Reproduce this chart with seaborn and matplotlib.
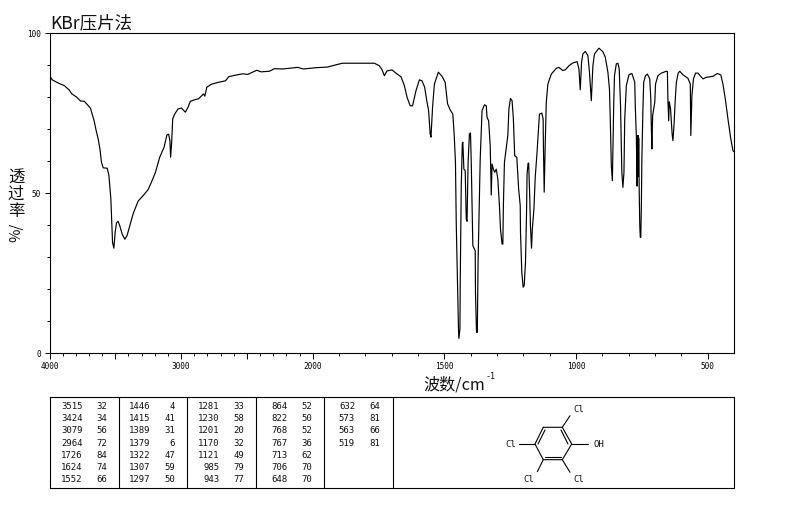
import numpy as np
import pandas as pd
import matplotlib
matplotlib.use('Agg')
import matplotlib.pyplot as plt
import seaborn as sns

# spectrum
wavenumber = [3996, 3979, 3933, 3888, 3852, 3832, 3794, 3764, 3736, 3711, 3688, 3676, 3661, 3648, 3630,
              3617, 3605, 3592, 3562, 3549, 3542, 3534, 3527, 3521, 3511, 3501, 3491, 3479, 3466, 3448,
              3428, 3411, 3390, 3365, 3327, 3289, 3251, 3226, 3195, 3163, 3130, 3108, 3095, 3085, 3080,
              3072, 3064, 3049, 3024, 2998, 2968, 2948, 2930, 2903, 2867, 2830, 2820, 2805, 2771, 2721,
              2663, 2638, 2595, 2532, 2494, 2426, 2392, 2329, 2292, 2229, 2115, 2072, 1988, 1944, 1912,
              1887, 1766, 1747, 1737, 1728, 1718, 1699, 1684, 1671, 1665, 1652, 1642, 1630, 1621, 1608,
              1595, 1585, 1575, 1567, 1560, 1554, 1551, 1545, 1538, 1523, 1509, 1497, 1488, 1478, 1468,
              1463, 1458, 1455, 1450, 1446.5, 1445, 1441, 1440, 1436, 1432, 1430, 1426, 1421, 1417, 1414,
              1410, 1405, 1401, 1398, 1392, 1383, 1382, 1378, 1375, 1372, 1367, 1364, 1357, 1348, 1341,
              1338, 1332, 1326, 1322, 1319, 1314, 1309, 1303, 1297, 1291, 1287, 1281, 1278, 1276, 1272,
              1265, 1259, 1255, 1249, 1243, 1238, 1233, 1225, 1218, 1212, 1211, 1206, 1201, 1197, 1192,
              1188, 1186, 1182, 1180, 1176, 1173, 1169, 1166, 1160, 1155, 1149, 1143, 1139, 1130, 1125,
              1124, 1121, 1117, 1113, 1107, 1094, 1075, 1065, 1050, 1040, 1027, 1012, 996, 989, 984,
              979, 974, 965, 955, 949, 942, 936, 930, 913, 898, 889, 879, 873, 870, 866,
              862, 857, 854, 847, 841, 836, 831, 826, 822, 818, 815, 809, 799, 788, 777,
              775, 771, 768, 767, 766, 765, 764, 763, 762, 760, 758, 756, 754, 752, 750,
              746, 743, 736, 729, 720, 716, 714, 712, 709, 701, 698, 689, 676, 657, 653,
              651, 648, 646, 641, 635, 632, 628, 623, 619, 612, 606, 594, 575, 566, 564,
              560, 554, 546, 537, 518, 505, 480, 463, 450, 442, 433, 423, 412, 404, 400]
transmittance = [86.3, 85.2, 84.2, 83.4, 82.1, 80.9, 79.8, 78.6, 78.5, 77.4, 76.3, 74.5, 72.4, 69.8, 66.7,
                 63.6, 59.4, 57.7, 57.6, 55.5, 52.1, 48, 40.7, 34.4, 32.6, 37.6, 40.5, 41, 39.6, 37,
                 35.4, 36.5, 39.6, 43.3, 47.3, 49, 50.9, 53.2, 56.3, 61, 64.1, 68, 68.2, 66.2, 61,
                 65.7, 73, 74.5, 76.1, 76.4, 75.1, 76.6, 78.5, 78.9, 79.3, 80.8, 80.1, 82.9, 83.8, 84.4,
                 84.9, 86.2, 86.6, 87.1, 86.9, 88.2, 87.7, 87.9, 88.7, 88.6, 89.1, 88.6, 89, 89.2, 89.9,
                 90.4, 90.4, 89.6, 88.4, 86.5, 88, 88.3, 87.3, 86.5, 86.2, 83.4, 79.8, 77.1, 77.1, 81.8,
                 85.2, 84.9, 82.9, 78.7, 75.6, 68.3, 67.3, 76.6, 83.9, 87.6, 86.3, 84.4, 77.7, 75.8, 74.5,
                 68.3, 59.4, 40.2, 20.9, 7.3, 4.4, 7.3, 20.9, 52.1, 65.2, 65.7, 57.3, 56.8, 41.7, 41,
                 59.4, 68.3, 68.6, 59.4, 33.4, 31.8, 18.8, 6.3, 6.3, 28.7, 48, 60.5, 75.6, 77.4, 77.1,
                 73.5, 72.4, 64.6, 49.2, 58.9, 57.3, 56.3, 57.3, 54.2, 45.9, 38.6, 33.9, 33.9, 45.9, 59.4,
                 64.1, 67.9, 76.1, 79.4, 78.7, 73, 61.5, 61, 51.1, 45.9, 37.6, 25.1, 20.4, 20.9, 28.2,
                 43.8, 55.8, 59.2, 59.2, 49, 39.1, 32.6, 38.6, 44.8, 54.8, 61.5, 69.3, 74.5, 74.8, 73,
                 65.2, 50.1, 65.2, 78.2, 83.9, 87, 88.8, 89.1, 88.1, 88.4, 89.6, 90.5, 90.9, 88.6, 82.1,
                 90.7, 93.3, 94.1, 92.8, 87.6, 78.7, 89.6, 93.3, 95.1, 94, 92.3, 87.6, 82.3, 73, 58.4,
                 53.7, 77.1, 86.5, 90.2, 90.4, 88.6, 77.1, 56.3, 51.6, 56.3, 73, 83.4, 86.8, 87.2, 84.5,
                 77.1, 67.8, 52, 58, 67.8, 55, 67.8, 55, 67, 50, 40, 36, 36, 45, 60,
                 76, 84.5, 86.5, 87, 85.5, 79.2, 70.4, 63.6, 74, 78.2, 83.9, 86.5, 87.3, 87.9, 87.8,
                 78.7, 72.4, 78.4, 76.1, 68.3, 66.2, 70.9, 79.2, 84.4, 87.3, 87.9, 86.8, 85.7, 83.9, 67.8,
                 80.2, 85.5, 87.3, 87.3, 85.5, 86, 86.3, 87.2, 86.7, 83.9, 79.2, 73, 66.7, 63.1, 62.7]

# peak table, one pair of lists per column
peak_wn = [[3515, 3424, 3079, 2964, 1726, 1624, 1552],
           [1446, 1415, 1389, 1379, 1322, 1307, 1297],
           [1281, 1230, 1201, 1170, 1121, 985, 943],
           [864, 822, 768, 767, 713, 706, 648],
           [632, 573, 563, 519]]
peak_t = [[32, 34, 56, 72, 84, 74, 66],
          [4, 41, 31, 6, 47, 59, 50],
          [33, 58, 20, 32, 49, 79, 77],
          [52, 50, 52, 36, 62, 70, 70],
          [64, 81, 66, 81]]

major_x = [4000, 3500, 3000, 2500, 2000, 1500, 1000, 500]
major_x_labels = ['4000', '', '3000', '', '2000', '1500', '1000', '500']
major_y = [0, 50, 100]

W, H = 794, 510
MONO = 'DejaVu Sans Mono'
CJK = ['Noto Sans CJK SC', 'DejaVu Sans']


# the wavenumber axis changes scale at 2000: above it, half as many pixels per unit
def forward(w):
    w = np.asarray(w, dtype=float)
    return np.where(w <= 2000, w, 2000 + (w - 2000) / 2)


def inverse(v):
    v = np.asarray(v, dtype=float)
    return np.where(v <= 2000, v, 2000 + (v - 2000) * 2)


sns.set_theme(style='ticks')
plt.rcParams['font.family'] = CJK

df = pd.DataFrame({'wn': wavenumber, 't': transmittance})

fig = plt.figure(figsize=(W / 100, H / 100), dpi=100, facecolor='white')
ax = fig.add_axes([49.5 / W, 1 - 353.5 / H, (734 - 49.5) / W, 320 / H])

sns.lineplot(data=df, x='wn', y='t', sort=False, estimator=None, color='black', linewidth=0.85, ax=ax)

ax.set_xscale('function', functions=(forward, inverse))
ax.set_xlim(4000, 400)
ax.set_ylim(0, 100)
ax.set_xlabel('')
ax.set_ylabel('')

ax.set_xticks(major_x)
ax.set_xticklabels(major_x_labels, fontfamily=MONO, fontsize=5.6)
ax.set_xticks(np.arange(500, 4000, 100), minor=True)
ax.set_yticks(major_y)
ax.set_yticklabels([str(v) for v in major_y], fontfamily=MONO, fontsize=5.6)
ax.set_yticks(np.arange(0, 101, 10), minor=True)
ax.tick_params(axis='x', which='major', length=4.5, width=0.7, pad=1.5, color='black', labelcolor='black')
ax.tick_params(axis='x', which='minor', length=2.2, width=0.7, color='black')
ax.tick_params(axis='y', which='major', length=3.6, width=0.7, pad=2.5, color='black', labelcolor='black')
ax.tick_params(axis='y', which='minor', length=2.2, width=0.7, color='black')
for spine in ax.spines.values():
    spine.set_visible(True)
    spine.set_color('black')
    spine.set_linewidth(0.8)

# overlay in pixel coordinates for the labels, the table and the structure
ov = fig.add_axes([0, 0, 1, 1], facecolor='none')
ov.set_xlim(0, W)
ov.set_ylim(H, 0)
ov.axis('off')

ov.text(50, 28, 'KBr压片法', fontsize=12.6, family=CJK, ha='left', va='baseline', color='#111111')
ov.text(16, 194.5, '透\n过\n率', fontsize=11.8, family=CJK, ha='center', va='center', linespacing=0.98, color='#111111')
ov.text(16, 232, '%/', fontsize=10.5, family=CJK, rotation=90, ha='center', va='center', color='#111111')
ov.text(423, 390, '波数/cm', fontsize=11.6, family=CJK, ha='left', va='baseline', color='#111111')
ov.text(486, 379, '-1', fontsize=6, family=MONO, ha='left', va='baseline', color='#111111')

# table frame
ov.plot([49.5, 734, 734, 49.5, 49.5], [397.5, 397.5, 489, 489, 397.5], color='black', lw=0.8)
for xd in [118.5, 186.5, 255.5, 323.5, 392.5]:
    ov.plot([xd, xd], [397.5, 489], color='black', lw=0.8)

row_y = [406.7, 419, 431, 443.3, 455.3, 467.7, 480]
wn_right = [82.5, 150.5, 219.5, 287, 355]
t_right = [107, 175, 244, 312.5, 380]
for c in range(len(peak_wn)):
    for r in range(len(peak_wn[c])):
        ov.text(wn_right[c], row_y[r], str(peak_wn[c][r]), fontsize=6.5, family=MONO, ha='right', va='center', color='#111111')
        ov.text(t_right[c], row_y[r], str(peak_t[c][r]), fontsize=6.5, family=MONO, ha='right', va='center', color='#111111')

# structure: 2,3,4,6-tetrachlorophenol
ring_x = [543.3, 562.3, 571.7, 562.3, 543.3, 535, 543.3]
ring_y = [428.3, 428.3, 445, 460.7, 460.7, 445, 428.3]
ov.plot(ring_x, ring_y, color='black', lw=0.8)
ov.plot([545, 538], [431, 445], color='black', lw=0.8)
ov.plot([561, 568], [431, 445], color='black', lw=0.8)
ov.plot([545, 561], [458, 458], color='black', lw=0.8)
ov.plot([562.3, 570], [428.3, 416.7], color='black', lw=0.8)
ov.plot([571.7, 588.3], [445, 445], color='black', lw=0.8)
ov.plot([535, 519.3], [445, 445], color='black', lw=0.8)
ov.plot([543.3, 537.3], [460.7, 472.7], color='black', lw=0.8)
ov.plot([562.3, 570], [460.7, 473.3], color='black', lw=0.8)
for tx, ty, s in [(579, 409.5, 'Cl'), (510.5, 444.5, 'Cl'), (528.5, 479.5, 'Cl'), (579, 479.5, 'Cl'), (598.5, 444.5, 'OH')]:
    ov.text(tx, ty, s, fontsize=6.5, family=MONO, ha='center', va='center', color='#111111')

fig.savefig('out.png', dpi=100)
